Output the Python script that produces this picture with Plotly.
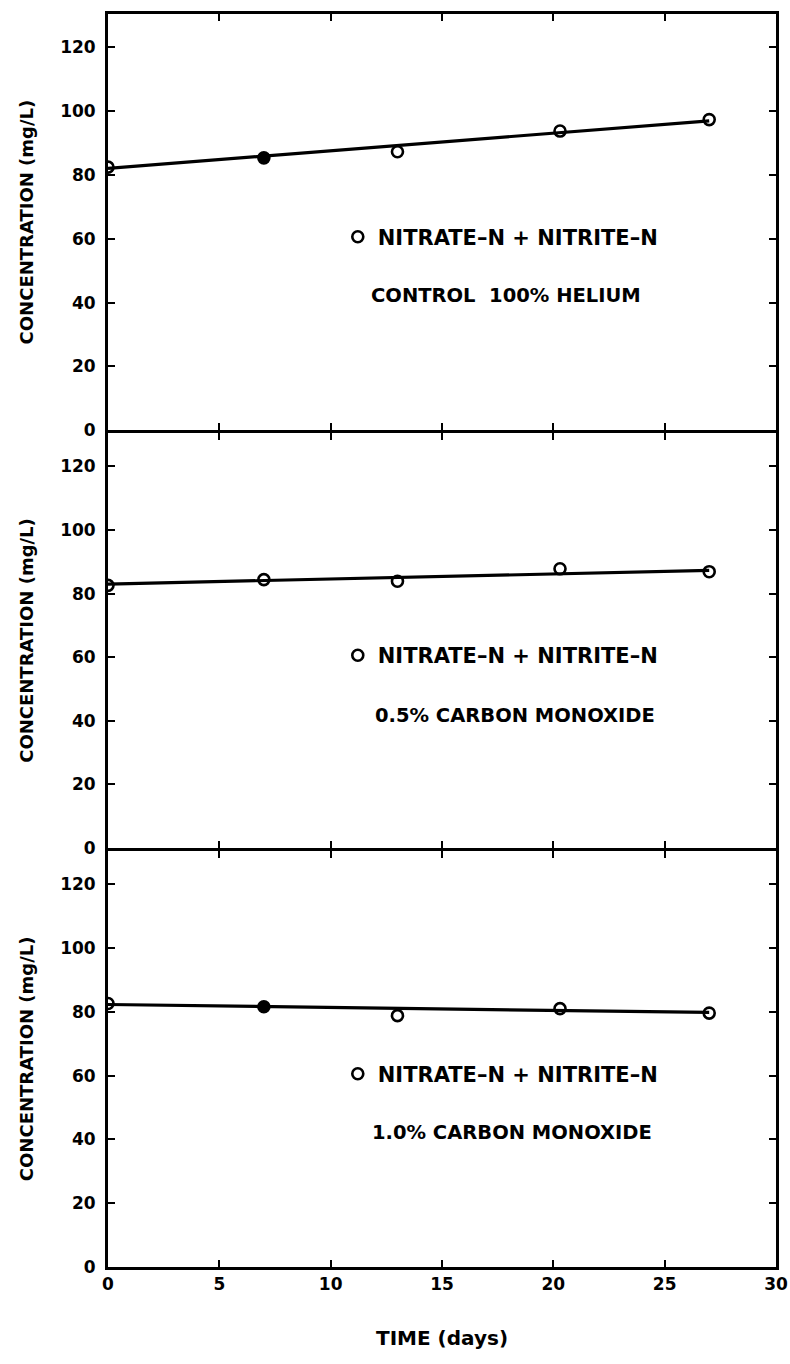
import plotly.graph_objects as go
from plotly.subplots import make_subplots

# ---- data ----
days = [0, 7, 13, 20.3, 27]
conc_helium = [82.5, 85.4, 87.3, 93.8, 97.4]
conc_co05 = [82.6, 84.4, 83.9, 87.8, 86.9]
conc_co10 = [82.6, 81.6, 78.8, 81.0, 79.6]

fit_x = [0, 27]
fit_helium = [82.1, 97.0]
fit_co05 = [83.0, 87.3]
fit_co10 = [82.3, 79.8]

conditions = ["CONTROL  100% HELIUM", "0.5% CARBON MONOXIDE", "1.0% CARBON MONOXIDE"]
series_name = "NITRATE\u2013N + NITRITE\u2013N"
x_ticks = [0, 5, 10, 15, 20, 25, 30]
y_ticks = [0, 20, 40, 60, 80, 100, 120]
y_title = "CONCENTRATION (mg/L)"
x_title = "TIME (days)"

panels = [
    (conc_helium, fit_helium),
    (conc_co05, fit_co05),
    (conc_co10, fit_co10),
]
# points drawn as solid dots in the reference (index into days)
solid_points = [{1}, set(), {1}]

FONT = "DejaVu Sans"
LW = 2.8
fig = make_subplots(rows=3, cols=1, shared_xaxes=True, vertical_spacing=0)

legend_y = [0.822, 0.488, 0.154]
cond_pos = [(0.596, 0.775), (0.609, 0.4405), (0.605, 0.1077)]

for i, (vals, fit) in enumerate(panels):
    row = i + 1
    symbols = ["circle" if k in solid_points[i] else "circle-open" for k in range(len(days))]
    fig.add_trace(go.Scatter(x=fit_x, y=fit, mode="lines",
                             line=dict(color="black", width=3.2),
                             showlegend=False, hoverinfo="skip"), row=row, col=1)
    fig.add_trace(go.Scatter(x=days, y=vals, mode="markers", name=series_name,
                             marker=dict(symbol=symbols, size=11, color="black",
                                         line=dict(width=2.6, color="black")),
                             legend="legend" if i == 0 else f"legend{i+1}",
                             showlegend=True), row=row, col=1)
    fig.add_annotation(x=cond_pos[i][0], y=cond_pos[i][1], xref="paper", yref="paper",
                       xanchor="center", yanchor="middle",
                       text=conditions[i], showarrow=False,
                       font=dict(family=FONT, size=19.5, color="black", weight="bold"))

axis_common = dict(showline=True, linewidth=LW, linecolor="black", mirror="ticks",
                   ticks="inside", ticklen=7, tickwidth=2.2, tickcolor="black",
                   showgrid=False, zeroline=False, automargin=False,
                   tickfont=dict(family=FONT, size=17, color="black", weight="bold"))

for r in range(1, 4):
    fig.update_xaxes(range=[0, 30], tickvals=x_ticks, row=r, col=1,
                     ticklabelstandoff=0, **axis_common)
    fig.update_yaxes(range=[0, 130.5], tickvals=y_ticks, row=r, col=1,
                     ticklabelstandoff=6,
                     title=dict(text=y_title, standoff=22,
                                font=dict(family=FONT, size=18, color="black", weight="bold")),
                     **axis_common)

fig.update_xaxes(row=3, col=1,
                 title=dict(text=x_title, standoff=38,
                            font=dict(family=FONT, size=20, color="black", weight="bold")))

plot_h = 1364 - 14 - 97
g = LW / plot_h
fig.update_layout(
    yaxis=dict(domain=[2 / 3 + g / 2, 1]),
    yaxis2=dict(domain=[1 / 3 + g / 2, 2 / 3 - g / 2]),
    yaxis3=dict(domain=[0, 1 / 3 - g / 2]),
)

legend_common = dict(x=0.344, xanchor="left", yanchor="middle", bgcolor="rgba(0,0,0,0)",
                     borderwidth=0, itemwidth=30,
                     font=dict(family=FONT, size=21, color="black", weight="bold"))
fig.update_layout(
    width=790, height=1364,
    margin=dict(l=108, r=14, t=14, b=97, autoexpand=False),
    paper_bgcolor="white", plot_bgcolor="white",
    legend=dict(y=legend_y[0], **legend_common),
    legend2=dict(y=legend_y[1], **legend_common),
    legend3=dict(y=legend_y[2], **legend_common),
)

fig.write_html("out.html")
